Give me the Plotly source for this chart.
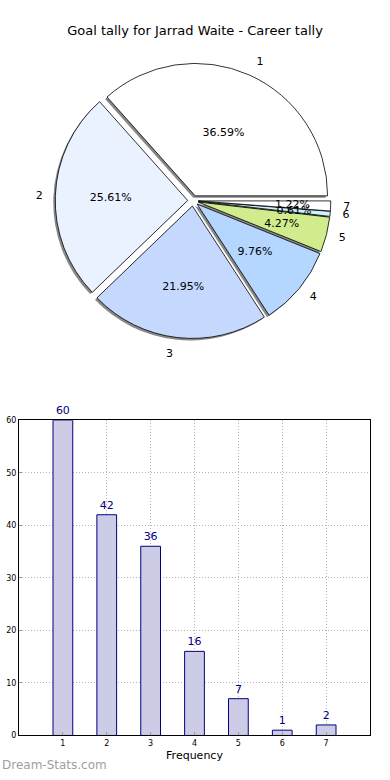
import plotly.graph_objects as go

categories = ["1", "2", "3", "4", "5", "6", "7"]
goals = [60, 42, 36, 16, 7, 1, 2]
slice_colors = ["#ffffff", "#eaf1ff", "#c5d9ff", "#b5d6ff", "#d0ec8d", "#ccf3ff", "#ffffff"]
y_ticks = [0, 10, 20, 30, 40, 50, 60]

W, H = 390, 780
FONT = "DejaVu Sans"

def px_dom_x(a, b):
    return [a / W, b / W]

def px_dom_y(top, bottom):
    return [1 - bottom / H, 1 - top / H]

# first slice starts at 3 o'clock and runs counterclockwise
rot = 90 - 360 * goals[0] / sum(goals)

PULL = 0.04
pull = [PULL] * len(goals)
cx, cy, r = 193, 199, 134
half = r * (1 + PULL)
r_small = r * 0.75
half_small = r_small * (1 + PULL)
half_label = (r + 9) * (1 + PULL)

n = len(goals)
pct_big = ["%{percent:.2%}" if i < 3 else "" for i in range(n)]
pct_small = ["" if i < 3 else "%{percent:.2%}" for i in range(n)]
# split outside labels into two traces so plotly does not push neighbours apart
lab_a = ["%{label}" if i < n - 1 else "" for i in range(n)]
lab_b = ["%{label}" if i == n - 1 else "" for i in range(n)]

pie_common = dict(labels=categories, values=goals, sort=False,
                  direction="counterclockwise", rotation=rot, pull=pull, showlegend=False)
dom_main = dict(x=px_dom_x(cx - half, cx + half), y=px_dom_y(cy - half, cy + half))
dom_label = dict(x=px_dom_x(cx - half_label, cx + half_label),
                 y=px_dom_y(cy - half_label, cy + half_label))
clear = dict(colors=["rgba(0,0,0,0)"] * n, line=dict(width=0))

fig = go.Figure()
# shadow
fig.add_trace(go.Pie(
    **pie_common,
    marker=dict(colors=["#888888"] * n, line=dict(width=0)),
    textinfo="none", hoverinfo="skip",
    domain=dict(x=px_dom_x(cx - half - 2, cx + half - 2), y=px_dom_y(cy - half + 2, cy + half + 2)),
))
# main pie
fig.add_trace(go.Pie(
    **pie_common,
    marker=dict(colors=slice_colors, line=dict(color="black", width=0.8)),
    texttemplate=pct_big, textposition="inside", insidetextorientation="horizontal",
    textfont=dict(family=FONT, size=11, color="black"),
    domain=dom_main,
))
# percentages for the narrower slices, drawn nearer the centre
fig.add_trace(go.Pie(
    **pie_common, marker=clear,
    texttemplate=pct_small, textposition="inside", insidetextorientation="horizontal",
    textfont=dict(family=FONT, size=11, color="black"), hoverinfo="skip",
    domain=dict(x=px_dom_x(cx - half_small, cx + half_small),
                y=px_dom_y(cy - half_small, cy + half_small)),
))
# outside category labels
for tpl in (lab_a, lab_b):
    fig.add_trace(go.Pie(
        **pie_common, marker=clear,
        texttemplate=tpl, textposition="outside",
        outsidetextfont=dict(family=FONT, size=11, color="black"), hoverinfo="skip",
        domain=dom_label,
    ))

fig.add_trace(go.Bar(
    x=[int(c) for c in categories], y=goals, width=0.45,
    marker=dict(color="#ccccE6", line=dict(color="#000080", width=1)),
    text=[str(v) for v in goals], textposition="outside", cliponaxis=False,
    textfont=dict(family=FONT, size=11, color="#000080"), showlegend=False,
    xaxis="x", yaxis="y",
))

grid = dict(showgrid=True, gridcolor="#b4b4b4", griddash="1px,2px", gridwidth=1,
            zeroline=False, showline=True, linecolor="black", linewidth=1, mirror=True,
            ticks="inside", ticklen=3, tickcolor="#999", tickfont=dict(size=8, family=FONT))

fig.update_layout(
    width=W, height=H, margin=dict(l=0, r=0, t=0, b=0),
    paper_bgcolor="white", plot_bgcolor="white",
    font=dict(family=FONT, color="black"),
    uniformtext=dict(minsize=11, mode="show"),
    title=dict(text="Goal tally for Jarrad Waite - Career tally", x=0.5, xanchor="center",
               y=1 - 30 / H, yanchor="middle", font=dict(family=FONT, size=13, color="black")),
    xaxis=dict(domain=px_dom_x(19, 370), range=[0, 8], tickvals=[1, 2, 3, 4, 5, 6, 7],
               ticktext=categories,
               title=dict(text="Frequency", font=dict(size=11, family=FONT), standoff=4),
               anchor="y", **grid),
    yaxis=dict(domain=px_dom_y(421, 740), range=[0, 60], tickvals=y_ticks, anchor="x", **grid),
    annotations=[dict(text="Dream-Stats.com", x=0, y=1 - 770 / H, xref="paper", yref="paper",
                      xanchor="left", yanchor="middle", showarrow=False,
                      font=dict(family=FONT, size=12, color="#a0a0a0"))],
)

fig.write_html("out.html", config={"displayModeBar": False},
               post_script="document.body.style.margin='0';document.body.style.overflow='hidden';")
